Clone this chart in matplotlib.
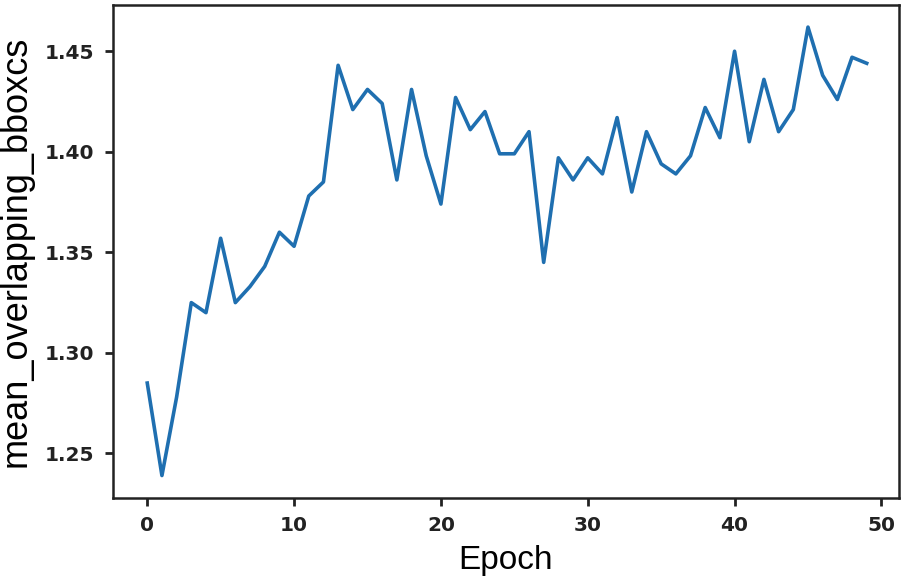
import numpy as np
from matplotlib import pyplot as plt

epochs = np.arange(50)
mean_overlap = [
    1.285, 1.239, 1.278, 1.325, 1.320, 1.357, 1.325, 1.333, 1.343, 1.360,
    1.353, 1.378, 1.385, 1.443, 1.421, 1.431, 1.424, 1.386, 1.431, 1.398,
    1.374, 1.427, 1.411, 1.420, 1.399, 1.399, 1.410, 1.345, 1.397, 1.386,
    1.397, 1.389, 1.417, 1.380, 1.410, 1.394, 1.389, 1.398, 1.422, 1.407,
    1.450, 1.405, 1.436, 1.410, 1.421, 1.462, 1.438, 1.426, 1.447, 1.444,
]
xticks = [0, 10, 20, 30, 40, 50]
yticks = [1.25, 1.30, 1.35, 1.40, 1.45]

fig = plt.figure(figsize=(9.07, 5.84), dpi=100)
ax = fig.add_axes([0.1243, 0.1473, 0.8669, 0.8447])
ax.plot(epochs, mean_overlap, color='#1f6fb0', linewidth=2.6)

ax.set_xlim(-2.35, 51.2)
ax.set_xticks(xticks)
ax.set_yticks(yticks)
ax.set_yticklabels(['%.2f' % v for v in yticks])
for lab in ax.get_xticklabels() + ax.get_yticklabels():
    lab.set_fontsize(14.5)
    lab.set_fontweight('bold')
    lab.set_color('#222222')
ax.tick_params(direction='out', length=6, width=2, pad=7, color='#222222')
for sp in ax.spines.values():
    sp.set_linewidth(1.8)
    sp.set_color('#222222')

ax.set_xlabel('Epoch', fontsize=24, family='Liberation Sans', labelpad=7)
ax.set_ylabel('mean_overlapping_bboxcs', fontsize=26, family='Liberation Sans', labelpad=8)

fig.savefig('out.png', dpi=100)
